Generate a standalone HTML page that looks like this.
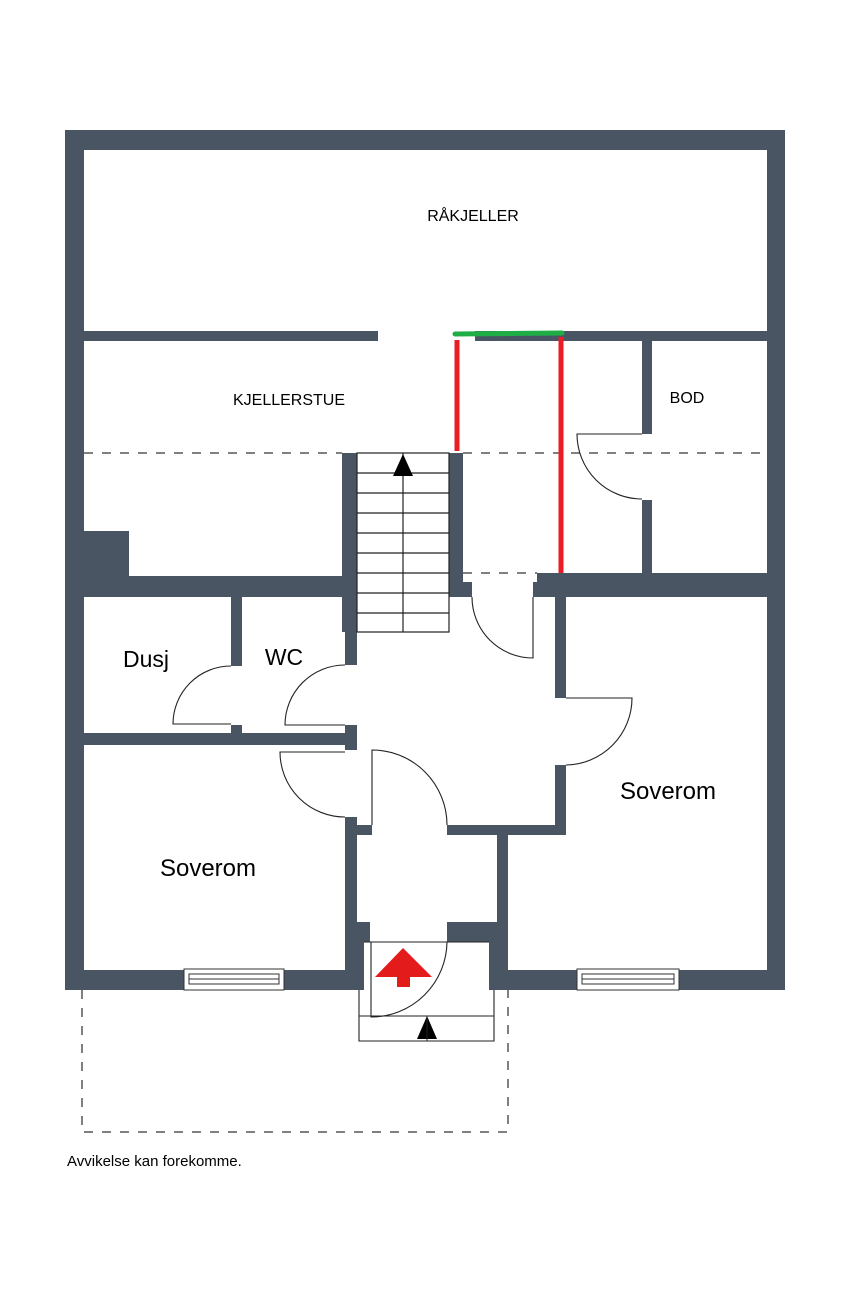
<!DOCTYPE html>
<html><head><meta charset="utf-8"><style>
html,body{margin:0;padding:0;background:#fff;}
svg{display:block;}
text{font-family:"Liberation Sans",Arial,sans-serif;fill:#000;}
</style></head><body>
<svg width="850" height="1295" viewBox="0 0 850 1295" xmlns="http://www.w3.org/2000/svg">
<rect width="850" height="1295" fill="#fff"/>
<g fill="#4a5563">
<rect x="65" y="130" width="720" height="20"/>
<rect x="65" y="130" width="19" height="860"/>
<rect x="767" y="130" width="18" height="860"/>
<rect x="65" y="970" width="299" height="20"/>
<rect x="489" y="970" width="296" height="20"/>
<rect x="84" y="331" width="294" height="10"/>
<rect x="475" y="331" width="292" height="10"/>
<rect x="642" y="341" width="10" height="93"/>
<rect x="642" y="500" width="10" height="74"/>
<rect x="84" y="531" width="45" height="46"/>
<rect x="84" y="576" width="273" height="21"/>
<rect x="342" y="453" width="15" height="179"/>
<rect x="345" y="630" width="12" height="35"/>
<rect x="449" y="453" width="14" height="144"/>
<rect x="462" y="582" width="10" height="15"/>
<rect x="537" y="573" width="230" height="24"/>
<rect x="533" y="582" width="5" height="15"/>
<rect x="555" y="597" width="11" height="101"/>
<rect x="555" y="765" width="11" height="70"/>
<rect x="447" y="825" width="119" height="10"/>
<rect x="497" y="825" width="11" height="145"/>
<rect x="447" y="922" width="61" height="20"/>
<rect x="489" y="942" width="19" height="48"/>
<rect x="345" y="817" width="12" height="153"/>
<rect x="355" y="825" width="17" height="10"/>
<rect x="345" y="922" width="25" height="20"/>
<rect x="345" y="942" width="19" height="48"/>
<rect x="231" y="597" width="11" height="69"/>
<rect x="231" y="725" width="11" height="9"/>
<rect x="84" y="733" width="273" height="12"/>
<rect x="345" y="725" width="12" height="25"/>
</g>
<g fill="#fff" stroke="#333" stroke-width="1">
<rect x="184" y="969" width="100" height="21"/>
<rect x="189" y="974" width="90" height="10"/>
<line x1="189" y1="979" x2="279" y2="979"/>
<rect x="577" y="969" width="102" height="21"/>
<rect x="582" y="974" width="92" height="10"/>
<line x1="582" y1="979" x2="674" y2="979"/>
</g>
<g stroke="#808080" stroke-width="2" stroke-dasharray="9,9" fill="none">
<line x1="84" y1="453" x2="342" y2="453"/>
<line x1="463" y1="453" x2="767" y2="453"/>
<line x1="463" y1="573" x2="537" y2="573"/>
<polyline points="82,990 82,1132 508,1132 508,990"/>
</g>
<g stroke="#222" stroke-width="1.2" fill="none">
<rect x="357" y="453" width="92" height="179"/>
<line x1="403" y1="453" x2="403" y2="632"/>
<line x1="357" y1="473" x2="449" y2="473"/>
<line x1="357" y1="493" x2="449" y2="493"/>
<line x1="357" y1="513" x2="449" y2="513"/>
<line x1="357" y1="533" x2="449" y2="533"/>
<line x1="357" y1="553" x2="449" y2="553"/>
<line x1="357" y1="573" x2="449" y2="573"/>
<line x1="357" y1="593" x2="449" y2="593"/>
<line x1="357" y1="613" x2="449" y2="613"/>
</g>
<polygon points="403,454 393,476 413,476" fill="#000"/>
<g stroke="#222" stroke-width="1.1" fill="none">
<path d="M642,434 L577,434 A65,65 0 0 0 642,499"/>
<path d="M533,597 L533,658 A61,61 0 0 1 472,597"/>
<path d="M566,698 L632,698 A67,67 0 0 1 566,765"/>
<path d="M231,724 L173,724 A58,58 0 0 1 231,666"/>
<path d="M345,725 L285,725 A60,60 0 0 1 345,665"/>
<path d="M345,752 L280,752 A65,65 0 0 0 345,817"/>
<path d="M372,825 L372,750 A75,75 0 0 1 447,825"/>
<path d="M364,942 L489,942"/>
<path d="M359,990 L359,1041 L494,1041 L494,990"/>
<line x1="359" y1="1016" x2="494" y2="1016"/>
<path d="M371,942 L371,1017 A76,76 0 0 0 447,942"/>
</g>
<polygon points="403,948 375,977 397,977 397,987 410,987 410,977 432,977" fill="#e31b1b"/>
<polygon points="427,1016 417,1039 437,1039" fill="#000"/>
<line x1="427" y1="1016" x2="427" y2="1041" stroke="#222" stroke-width="1"/>
<line x1="455" y1="334" x2="562" y2="333" stroke="#1fae45" stroke-width="5" stroke-linecap="round"/>
<line x1="457" y1="340" x2="457" y2="451" stroke="#ea1c24" stroke-width="5"/>
<line x1="561" y1="337" x2="561" y2="573" stroke="#ea1c24" stroke-width="5"/>
<text x="473" y="221" font-size="16" text-anchor="middle">RÅKJELLER</text>
<text x="289" y="405" font-size="16" text-anchor="middle">KJELLERSTUE</text>
<text x="687" y="403" font-size="16" text-anchor="middle">BOD</text>
<text x="146" y="667" font-size="23" text-anchor="middle">Dusj</text>
<text x="284" y="665" font-size="23" text-anchor="middle">WC</text>
<text x="668" y="799" font-size="24" text-anchor="middle">Soverom</text>
<text x="208" y="876" font-size="24" text-anchor="middle">Soverom</text>
<text x="67" y="1166" font-size="15">Avvikelse kan forekomme.</text>
</svg>
</body></html>
